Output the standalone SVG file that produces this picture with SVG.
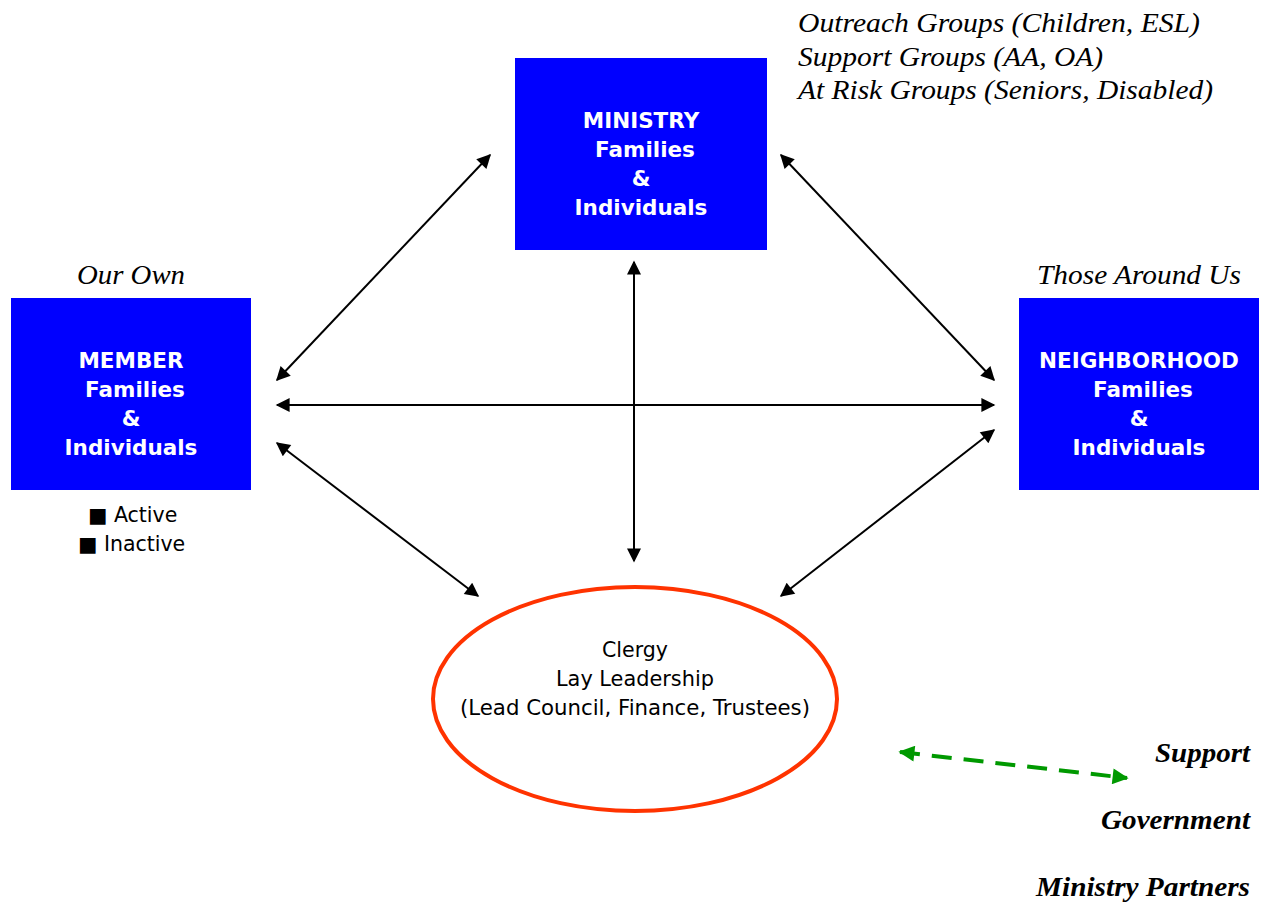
<svg xmlns="http://www.w3.org/2000/svg" width="1267" height="905" viewBox="0 0 1267 905">
<style>
.box{fill:#0000FF}
.bt{font-family:"DejaVu Sans",Verdana,sans-serif;font-weight:bold;font-size:21.5px;fill:#FFFFFF;text-anchor:middle}
.lab{font-family:"Liberation Serif","Times New Roman",serif;font-style:italic;font-size:27px;fill:#000}
.bi{font-family:"Liberation Serif","Times New Roman",serif;font-style:italic;font-weight:bold;font-size:28px;fill:#000;text-anchor:end}
.pl{font-family:"DejaVu Sans",Verdana,sans-serif;font-size:20.5px;fill:#000}
.conn{stroke:#000;stroke-width:2;fill:none;marker-start:url(#ah);marker-end:url(#ah)}
.green{stroke:#009900;stroke-width:4;stroke-dasharray:20 12;fill:none;marker-start:url(#ag);marker-end:url(#ag)}
</style>
<defs>
<marker id="ah" viewBox="0 0 10 10" refX="9" refY="5" markerWidth="8" markerHeight="7" markerUnits="strokeWidth" orient="auto-start-reverse"><path d="M0,0 L10,5 L0,10 z" fill="#000"/></marker>
<marker id="ag" viewBox="0 0 10 10" refX="9" refY="5" markerWidth="4.5" markerHeight="4" markerUnits="strokeWidth" orient="auto-start-reverse"><path d="M0,0 L10,5 L0,10 z" fill="#009900"/></marker>
</defs>
<rect width="1267" height="905" fill="#FFFFFF"/>
<g id="connectors">
<line class="conn" x1="490" y1="155" x2="277" y2="380"/>
<line class="conn" x1="781" y1="155" x2="994" y2="380"/>
<line class="conn" x1="277" y1="405" x2="994" y2="405"/>
<line class="conn" x1="634" y1="262" x2="634" y2="561"/>
<line class="conn" x1="277" y1="443" x2="478" y2="596"/>
<line class="conn" x1="994" y1="430" x2="781" y2="596"/>
<line class="green" x1="900" y1="752" x2="1127" y2="778"/>
</g>
<g id="ministry">
<rect class="box" x="515" y="58" width="252" height="192"/>
<text class="bt" x="641" y="128">MINISTRY</text>
<text class="bt" x="645" y="157">Families</text>
<text class="bt" x="641" y="186">&amp;</text>
<text class="bt" x="641" y="215">Individuals</text>
</g>
<g id="ministry-groups">
<text class="lab" x="798" y="32" textLength="402" lengthAdjust="spacingAndGlyphs">Outreach Groups (Children, ESL)</text>
<text class="lab" x="798" y="66" textLength="305" lengthAdjust="spacingAndGlyphs">Support Groups (AA, OA)</text>
<text class="lab" x="798" y="99" textLength="415" lengthAdjust="spacingAndGlyphs">At Risk Groups (Seniors, Disabled)</text>
</g>
<g id="member">
<text class="lab" x="77" y="284" textLength="108" lengthAdjust="spacingAndGlyphs">Our Own</text>
<rect class="box" x="11" y="298" width="240" height="192"/>
<text class="bt" x="131" y="368">MEMBER</text>
<text class="bt" x="135" y="397">Families</text>
<text class="bt" x="131" y="426">&amp;</text>
<text class="bt" x="131" y="455">Individuals</text>
<text class="pl" x="88" y="522" font-size="20">■ Active</text>
<text class="pl" x="78" y="551" font-size="20">■ Inactive</text>
</g>
<g id="neighborhood">
<text class="lab" x="1037" y="284" textLength="204" lengthAdjust="spacingAndGlyphs">Those Around Us</text>
<rect class="box" x="1019" y="298" width="240" height="192"/>
<text class="bt" x="1139" y="368">NEIGHBORHOOD</text>
<text class="bt" x="1143" y="397">Families</text>
<text class="bt" x="1139" y="426">&amp;</text>
<text class="bt" x="1139" y="455">Individuals</text>
</g>
<g id="leadership">
<ellipse cx="635" cy="699" rx="202" ry="112" fill="#FFFFFF" stroke="#FF3300" stroke-width="4"/>
<text class="pl" x="602" y="657" textLength="66" lengthAdjust="spacingAndGlyphs">Clergy</text>
<text class="pl" x="556" y="686" textLength="158" lengthAdjust="spacingAndGlyphs">Lay Leadership</text>
<text class="pl" x="460" y="715" textLength="350" lengthAdjust="spacingAndGlyphs">(Lead Council, Finance, Trustees)</text>
</g>
<g id="partners">
<text class="bi" x="1250" y="762" textLength="95" lengthAdjust="spacingAndGlyphs">Support</text>
<text class="bi" x="1250" y="829" textLength="149" lengthAdjust="spacingAndGlyphs">Government</text>
<text class="bi" x="1250" y="896" textLength="214" lengthAdjust="spacingAndGlyphs">Ministry Partners</text>
</g>
</svg>
